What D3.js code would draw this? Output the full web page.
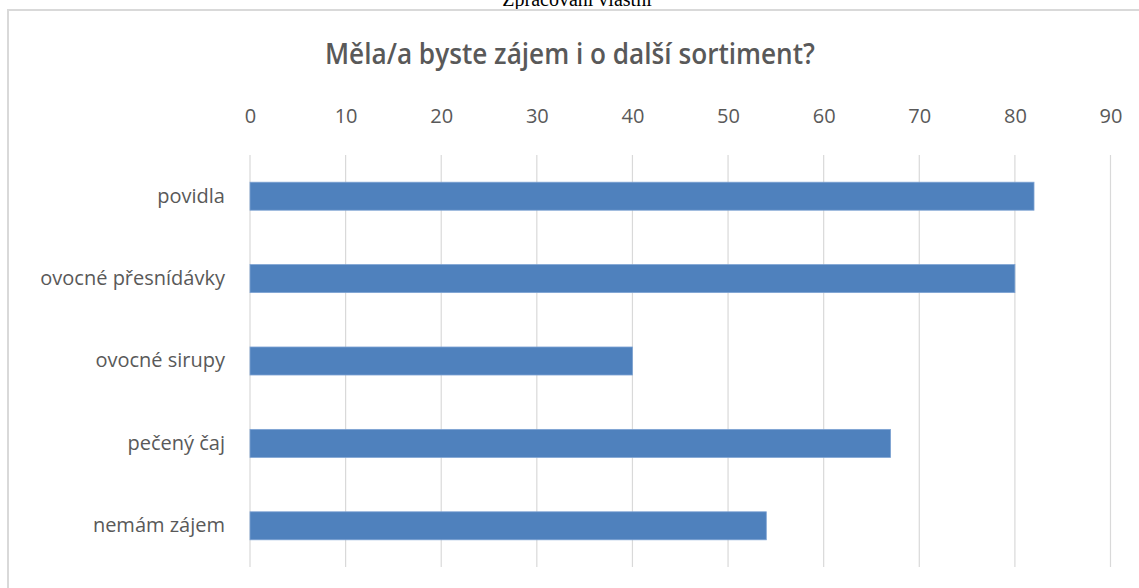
<!DOCTYPE html>
<html>
<head>
<meta charset="utf-8">
<script src="https://cdn.jsdelivr.net/npm/d3@7.9.0/dist/d3.min.js"></script>
<style>
  body { margin: 0; background: #fff; }
  svg { display: block; }
</style>
</head>
<body>
<svg id="chart" width="1139" height="588"></svg>
<script>
const categories = ['povidla', 'ovocné přesnídávky', 'ovocné sirupy', 'pečený čaj', 'nemám zájem'];
const values = [82, 80, 40, 67, 54];
const tickValues = [0, 10, 20, 30, 40, 50, 60, 70, 80, 90];
const chartTitle = 'Měla/a byste zájem i o další sortiment?';
const caption = 'Zpracování vlastní';

const svg = d3.select('#chart');
const font = "'Open Sans', 'Noto Sans', sans-serif";

// caption above the chart box (clipped by the page top)
svg.append('text')
    .attr('x', 577).attr('y', 6)
    .attr('text-anchor', 'middle')
    .attr('font-family', "'Liberation Serif', serif")
    .attr('font-size', 20)
    .attr('fill', '#000')
    .text(caption);

// chart box border (right and bottom are outside the picture)
svg.append('path')
    .attr('d', 'M8,600 L8,10 L1150,10')
    .attr('fill', 'none')
    .attr('stroke', '#d9d9d9')
    .attr('stroke-width', 2);

svg.append('text')
    .attr('x', 570).attr('y', 64)
    .attr('text-anchor', 'middle')
    .attr('font-family', font)
    .attr('font-size', 28)
    .attr('font-weight', 600)
    .attr('fill', '#595959')
    .attr('textLength', 490)
    .attr('lengthAdjust', 'spacingAndGlyphs')
    .text(chartTitle);

const x = d3.scaleLinear().domain([0, 90]).range([250, 1110.5]);
const y = d3.scaleBand().domain(categories).range([155, 567]).paddingInner(0.66).paddingOuter(0.33);

// gridlines
svg.append('g')
    .selectAll('line')
    .data(tickValues)
    .join('line')
    .attr('x1', d => x(d)).attr('x2', d => x(d))
    .attr('y1', 155).attr('y2', 567)
    .attr('stroke', '#d9d9d9')
    .attr('stroke-width', 1.2);

// top axis tick labels
const axis = svg.append('g')
    .attr('transform', 'translate(0,123)')
    .call(d3.axisTop(x).tickValues(tickValues).tickSize(0).tickPadding(0));
axis.select('.domain').remove();
axis.selectAll('text')
    .attr('font-family', font)
    .attr('font-size', 20)
    .attr('fill', '#595959');

// bars
svg.append('g')
    .selectAll('rect')
    .data(values)
    .join('rect')
    .attr('x', x(0))
    .attr('y', (d, i) => y(categories[i]))
    .attr('width', d => x(d) - x(0))
    .attr('height', y.bandwidth())
    .attr('fill', '#4f81bd')
    .attr('stroke', '#7ea3d3')
    .attr('stroke-width', 0.8);

// category labels
svg.append('g')
    .selectAll('text')
    .data(categories)
    .join('text')
    .attr('x', 225)
    .attr('y', d => y(d) + y.bandwidth() / 2)
    .attr('dy', '0.32em')
    .attr('text-anchor', 'end')
    .attr('font-family', font)
    .attr('font-size', 20)
    .attr('fill', '#595959')
    .text(d => d);
</script>
</body>
</html>
